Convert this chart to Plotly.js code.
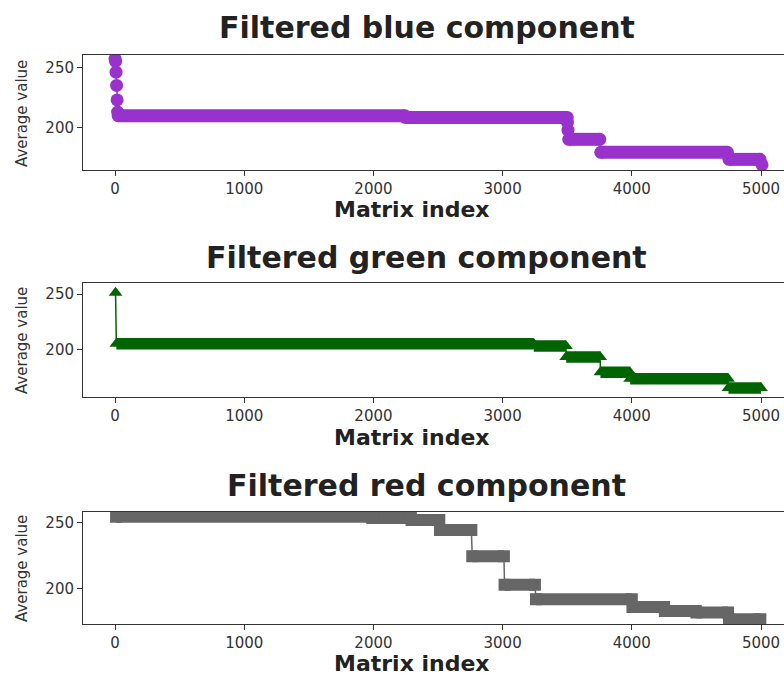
<!DOCTYPE html>
<html>
<head>
<meta charset="utf-8">
<script src="https://cdn.plot.ly/plotly-3.0.1.min.js"></script>
<style>
  html, body { margin: 0; padding: 0; background: #fff; overflow: hidden; }
  #chart { width: 784px; height: 677px; }
</style>
</head>
<body>
<div id="chart"></div>
<script>
// Sorted average value per matrix index, stored as constant runs:
// each run covers indices start..end at one level (single points have start == end).
const indexTicks = [0, 1000, 2000, 3000, 4000, 5000];
const valueTicks = [200, 250];

const blueRunStart = [0, 4, 8, 12, 16, 20, 24, 2246, 3502, 3506, 3512, 3760, 4752, 5008];
const blueRunEnd   = [0, 4, 8, 12, 16, 20, 2245, 3500, 3502, 3506, 3752, 4740, 4992, 5008];
const blueLevel    = [257, 255, 246, 235, 223, 213, 209.9, 208.5, 204.5, 198, 190.4, 179.6, 173.8, 169.2];

const greenRunStart = [4, 10, 3241, 3492, 3757, 3987, 4748];
const greenRunEnd   = [4, 3240, 3490, 3755, 3985, 4745, 5000];
const greenLevel    = [251.2, 204.9, 203.0, 193.0, 179.2, 173.4, 165.0];

const redRunStart = [8, 1991, 2295, 2515, 2765, 3015, 3258, 4005, 4256, 4500, 4752];
const redRunEnd   = [1990, 2290, 2510, 2758, 3010, 3250, 4000, 4250, 4495, 4745, 4995];
const redLevel    = [254.2, 253.3, 251.8, 244.3, 224.4, 203.0, 192.0, 186.3, 183.3, 182.1, 177.0];

const W = 784, H = 677;
const FONT = 'DejaVu Sans, Verdana, sans-serif';

// Build a thin connecting line plus a thick band for every run.
function channelTraces(starts, ends, levels, color, symbol, markerSize, bandWidth, axisId) {
  const lx = [], ly = [], bx = [], by = [];
  for (let i = 0; i < starts.length; i++) {
    const pts = starts[i] === ends[i] ? [starts[i]] : [starts[i], ends[i]];
    pts.forEach(p => { lx.push(p); ly.push(levels[i]); bx.push(p); by.push(levels[i]); });
    bx.push(null); by.push(null);
  }
  const xa = 'x' + (axisId === 1 ? '' : axisId);
  const ya = 'y' + (axisId === 1 ? '' : axisId);
  return [
    { x: lx, y: ly, xaxis: xa, yaxis: ya, type: 'scatter', mode: 'lines',
      line: { color: color, width: 1.5 }, hoverinfo: 'skip', showlegend: false },
    { x: bx, y: by, xaxis: xa, yaxis: ya, type: 'scatter', mode: 'lines+markers',
      connectgaps: false,
      line: { color: color, width: bandWidth },
      marker: { color: color, symbol: symbol, size: markerSize, line: { width: 0 } },
      showlegend: false }
  ];
}

const data = [
  ...channelTraces(blueRunStart, blueRunEnd, blueLevel, '#9932cc', 'circle', 13, 13, 1),
  ...channelTraces(greenRunStart, greenRunEnd, greenLevel, '#006400', 'triangle-up', 12, 11.5, 2),
  ...channelTraces(redRunStart, redRunEnd, redLevel, '#666666', 'square', 12, 12, 3)
];

function xAxis(anchor) {
  return {
    domain: [83 / W, 1], range: [-248, 5178], anchor: anchor,
    tickmode: 'array', tickvals: indexTicks, ticktext: indexTicks.map(String),
    ticks: 'outside', ticklen: 5, tickwidth: 1, tickcolor: '#333',
    showline: true, mirror: true, linecolor: '#333', linewidth: 1,
    showgrid: false, zeroline: false,
    tickfont: { family: FONT, size: 15, color: '#333' }
  };
}
function yAxis(anchor, topPx, bottomPx, range) {
  return {
    domain: [1 - bottomPx / H, 1 - topPx / H], range: range, anchor: anchor,
    tickmode: 'array', tickvals: valueTicks, ticktext: valueTicks.map(String),
    ticks: 'outside', ticklen: 5, tickwidth: 1, tickcolor: '#333',
    showline: true, mirror: false, linecolor: '#333', linewidth: 1,
    showgrid: false, zeroline: false,
    tickfont: { family: FONT, size: 15, color: '#333' }
  };
}

function label(text, xPx, yPx, size, bold, angle) {
  return {
    text: text, xref: 'paper', yref: 'paper', x: xPx / W, y: 1 - yPx / H,
    xanchor: 'center', yanchor: 'middle', showarrow: false, textangle: angle || 0,
    font: { family: FONT, size: size, color: bold ? '#222' : '#333', weight: bold ? 'bold' : 'normal' }
  };
}

const layout = {
  width: W, height: H,
  margin: { l: 0, r: 0, t: 0, b: 0, pad: 0 },
  paper_bgcolor: '#fff', plot_bgcolor: '#fff',
  showlegend: false,
  xaxis: xAxis('y'),
  yaxis: yAxis('x', 55, 170, [165, 260.2]),
  xaxis2: xAxis('y2'),
  yaxis2: yAxis('x2', 283.3, 396.7, [157.1, 259.7]),
  xaxis3: xAxis('y3'),
  yaxis3: yAxis('x3', 511.7, 624.3, [173.2, 258.0]),
  annotations: [
    label('Filtered blue component', 427, 27, 30, true),
    label('Filtered green component', 426, 257, 30, true),
    label('Filtered red component', 426, 485, 30, true),
    label('Matrix index', 412, 209, 22, true),
    label('Matrix index', 412, 437, 22, true),
    label('Matrix index', 412, 663, 22, true),
    label('Average value', 22, 114, 15, false, -90),
    label('Average value', 22, 341, 15, false, -90),
    label('Average value', 22, 569, 15, false, -90)
  ]
};

Plotly.newPlot('chart', data, layout, { staticPlot: true, displayModeBar: false });
</script>
</body>
</html>
